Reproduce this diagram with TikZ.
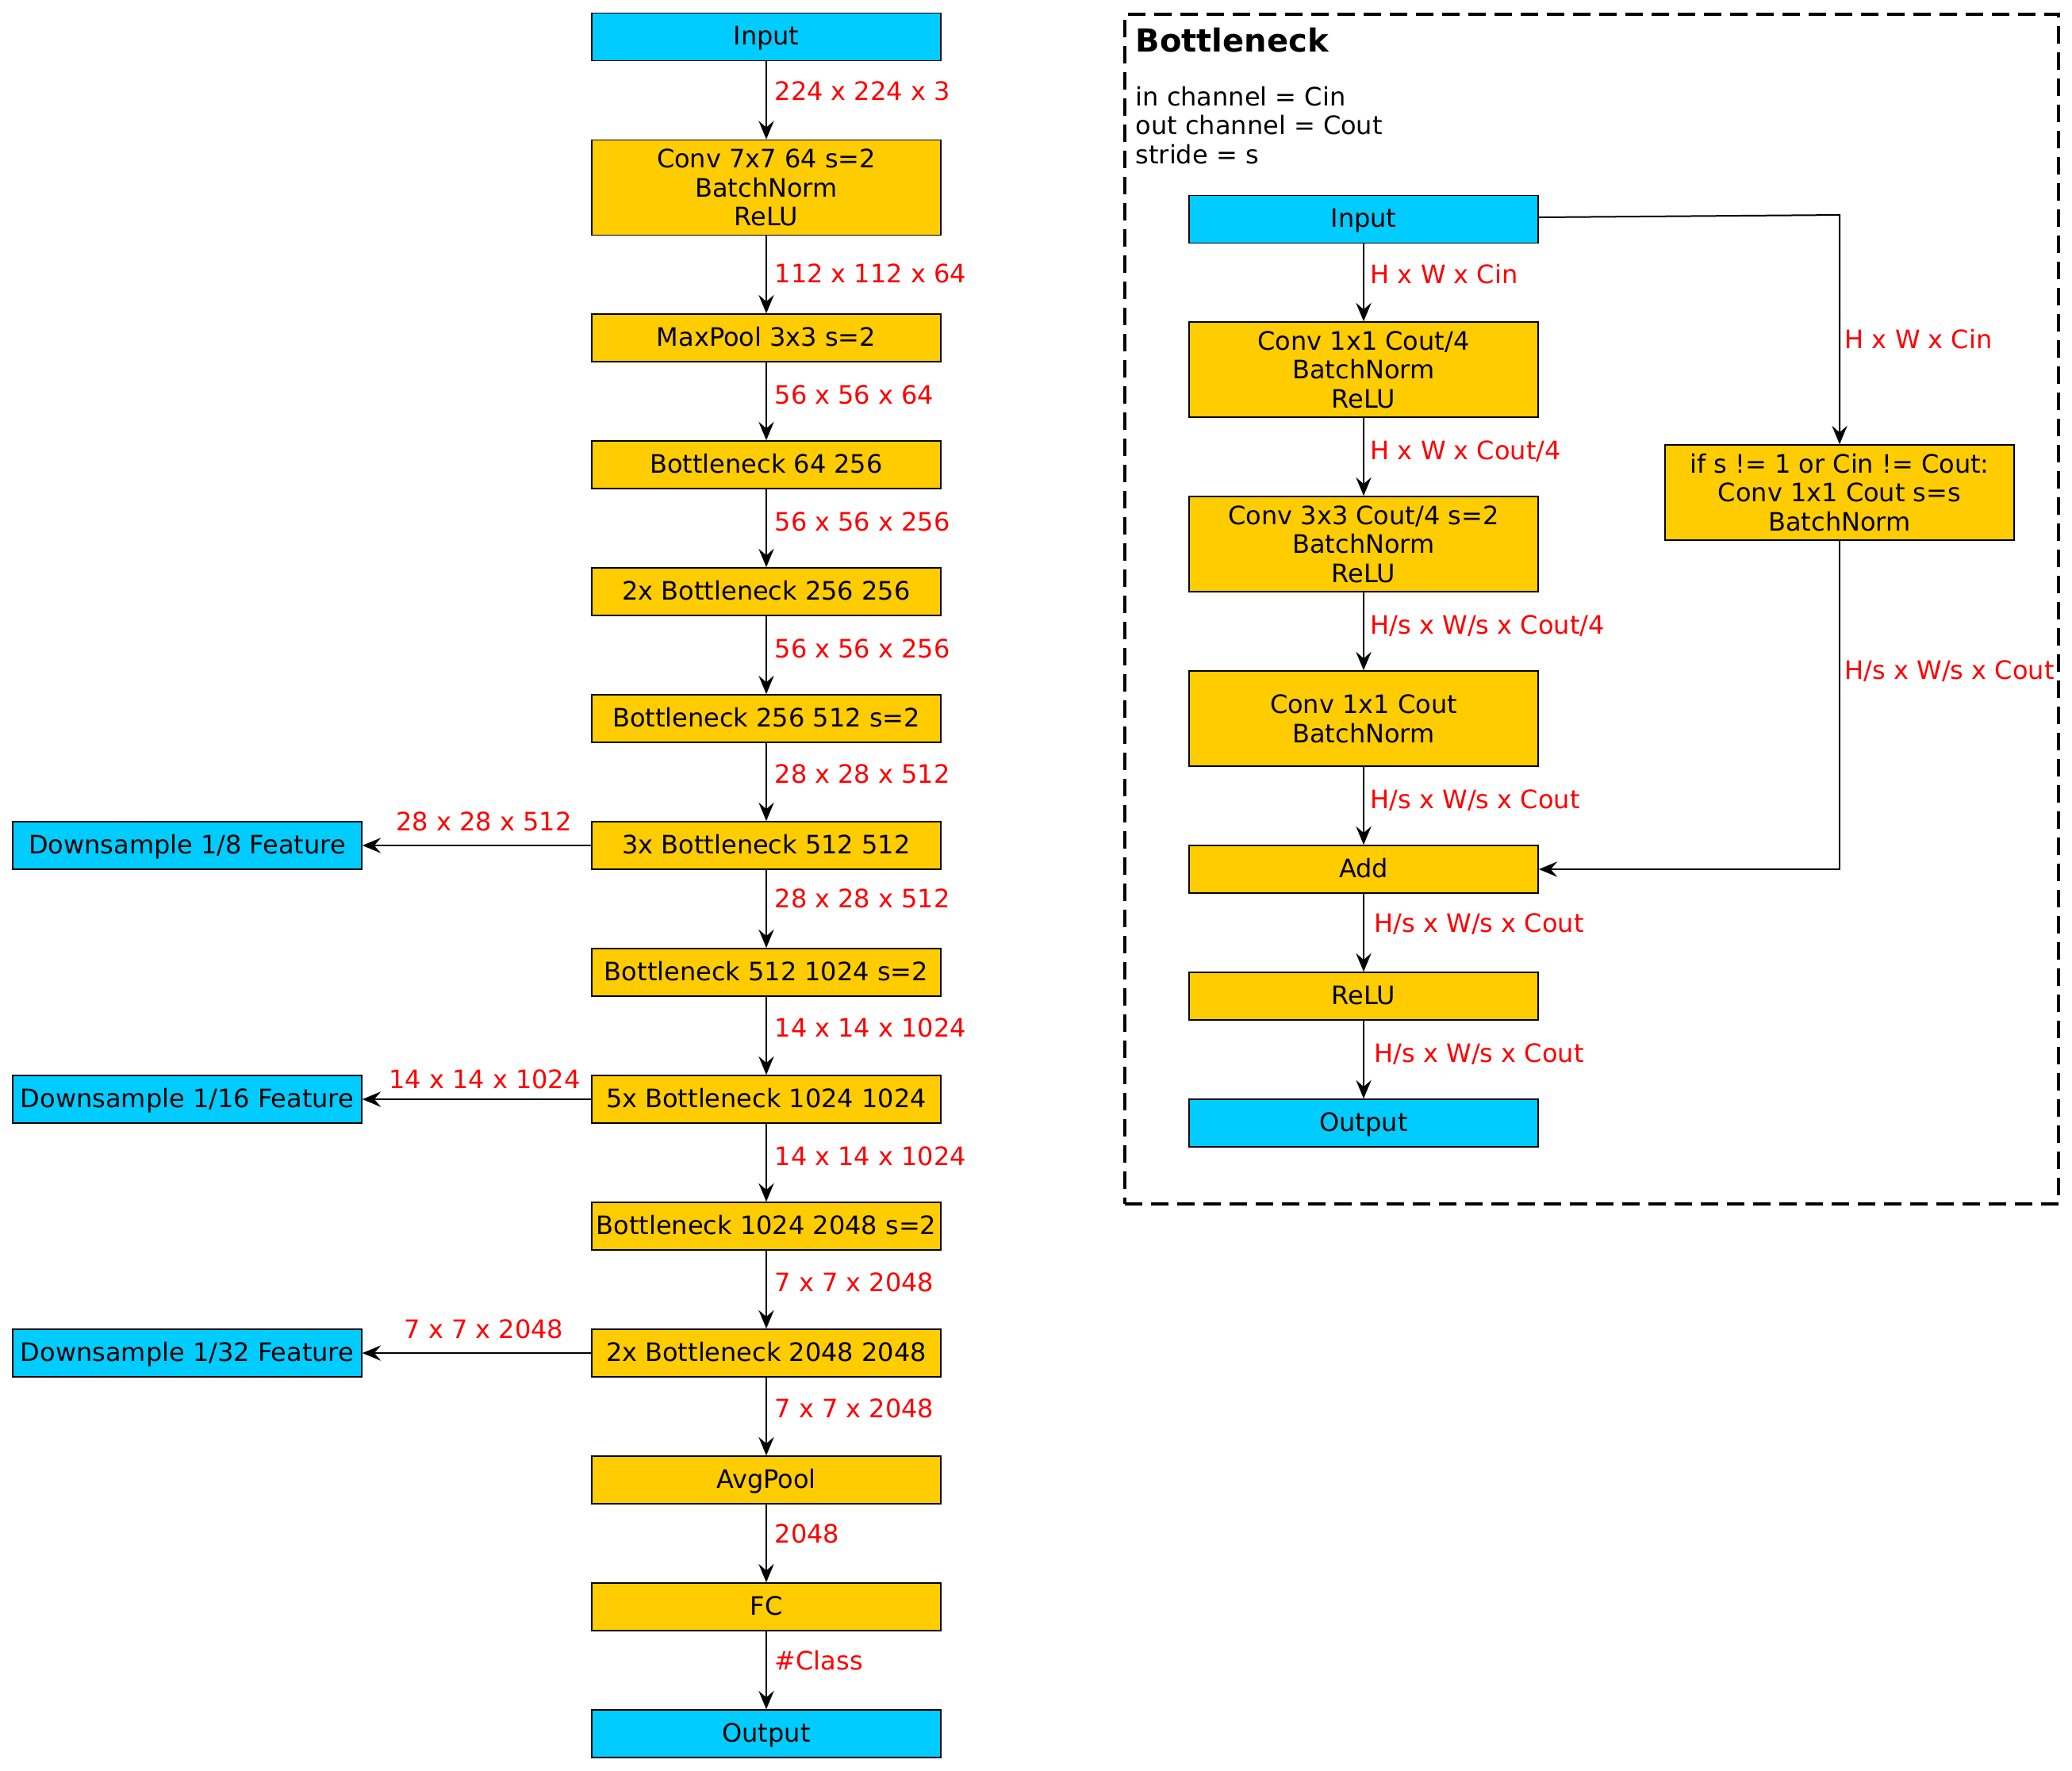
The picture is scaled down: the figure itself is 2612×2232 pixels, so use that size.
\documentclass[tikz,border=0pt]{standalone}
\usepackage{fontspec}
\setmainfont{DejaVu Sans}
\usetikzlibrary{arrows.meta}
\definecolor{mycyan}{HTML}{00CCFF}
\definecolor{myyellow}{HTML}{FFCC00}
\newcommand{\fs}{\fontsize{9.6}{11}\selectfont}
\tikzset{
  blk/.style={draw=black, line width=0.5pt, minimum width=132pt, minimum height=18pt, inner sep=0pt, align=center, font=\fs},
  one/.style={text height=8pt, text depth=1.9pt},
  ybox/.style={blk, one, fill=myyellow},
  cbox/.style={blk, one, fill=mycyan},
  tallbox/.style={blk, fill=myyellow, minimum height=36pt},
  lab/.style={text=red, font=\fs, anchor=west, inner sep=0pt, one},
  clab/.style={text=red, font=\fs, anchor=center, inner sep=0pt, one},
  arr/.style={-{Stealth[length=7pt,width=5.8pt,inset=2.5pt]}, line width=0.6pt},
  plain/.style={font=\fs, anchor=west, inner sep=0pt, one},
}
\begin{document}
\begin{tikzpicture}[x=0.3pt, y=-0.3pt]
\useasboundingbox (0,0) rectangle (2612,2232);
\fill[white] (0,0) rectangle (2612,2232);

% ---------------- left column ----------------
\node[cbox] (in) at (966,46.5) {Input};
\node[tallbox] (c7) at (966,236.5) {Conv 7x7 64 s=2\\BatchNorm\\ReLU};
\node[ybox] (mp) at (966,426) {MaxPool 3x3 s=2};
\node[ybox] (b1) at (966,586) {Bottleneck 64 256};
\node[ybox] (b2) at (966,746) {2x Bottleneck 256 256};
\node[ybox] (b3) at (966,906) {Bottleneck 256 512 s=2};
\node[ybox] (b4) at (966,1066) {3x Bottleneck 512 512};
\node[ybox] (b5) at (966,1226) {Bottleneck 512 1024 s=2};
\node[ybox] (b6) at (966,1386) {5x Bottleneck 1024 1024};
\node[ybox] (b7) at (966,1546) {Bottleneck 1024 2048 s=2};
\node[ybox] (b8) at (966,1706) {2x Bottleneck 2048 2048};
\node[ybox] (ap) at (966,1866) {AvgPool};
\node[ybox] (fc) at (966,2026) {FC};
\node[cbox] (out) at (966,2186) {Output};

\node[cbox] (d8) at (236,1066) {Downsample 1/8 Feature};
\node[cbox] (d16) at (236,1386) {Downsample 1/16 Feature};
\node[cbox] (d32) at (236,1706) {Downsample 1/32 Feature};

\draw[arr] (in) -- (c7);
\draw[arr] (c7) -- (mp);
\draw[arr] (mp) -- (b1);
\draw[arr] (b1) -- (b2);
\draw[arr] (b2) -- (b3);
\draw[arr] (b3) -- (b4);
\draw[arr] (b4) -- (b5);
\draw[arr] (b5) -- (b6);
\draw[arr] (b6) -- (b7);
\draw[arr] (b7) -- (b8);
\draw[arr] (b8) -- (ap);
\draw[arr] (ap) -- (fc);
\draw[arr] (fc) -- (out);
\draw[arr] (b4) -- (d8);
\draw[arr] (b6) -- (d16);
\draw[arr] (b8) -- (d32);

\node[lab] (l1) at (976,116) {224 x 224 x 3};
\node[lab] (l2) at (976,346) {112 x 112 x 64};
\node[lab] (l3) at (976,499) {56 x 56 x 64};
\node[lab] (l4) at (976,659) {56 x 56 x 256};
\node[lab] (l5) at (976,819) {56 x 56 x 256};
\node[lab] (l6) at (976,977) {28 x 28 x 512};
\node[lab] (l7) at (976,1134) {28 x 28 x 512};
\node[lab] (l8) at (976,1297) {14 x 14 x 1024};
\node[lab] (l9) at (976,1459) {14 x 14 x 1024};
\node[lab] (l10) at (976,1618) {7 x 7 x 2048};
\node[lab] (l11) at (976,1777) {7 x 7 x 2048};
\node[lab] (l12) at (976,1935) {2048};
\node[lab] (l13) at (976,2095) {\#Class};
\node[clab] (ld8) at (610,1037) {28 x 28 x 512};
\node[clab] (ld16) at (611,1362) {14 x 14 x 1024};
\node[clab] (ld32) at (610,1677) {7 x 7 x 2048};

% ---------------- bottleneck panel ----------------
\node[draw, line width=1.2pt, dash pattern=on 6.6pt off 3.3pt, minimum width=353.1pt, minimum height=450pt, inner sep=0pt] (panel) at (2006.5,768) {};
\node[plain, font=\fontsize{12}{14}\selectfont\bfseries, text height=9.5pt, text depth=2.5pt] (title) at (1431,54) {Bottleneck};
\node[plain] (t1) at (1431,123) {in channel = Cin};
\node[plain] (t2) at (1431,159) {out channel = Cout};
\node[plain] (t3) at (1431,196) {stride = s};

\node[cbox] (bin) at (1719,276.5) {Input};
\node[tallbox] (bc1) at (1719,466) {Conv 1x1 Cout/4\\BatchNorm\\ReLU};
\node[tallbox] (bc3) at (1719,686) {Conv 3x3 Cout/4 s=2\\BatchNorm\\ReLU};
\node[tallbox] (bc2) at (1719,906) {Conv 1x1 Cout\\BatchNorm};
\node[ybox] (badd) at (1719,1096) {Add};
\node[ybox] (brelu) at (1719,1256) {ReLU};
\node[cbox] (bout) at (1719,1416) {Output};
\node[tallbox] (bsc) at (2319,621) {if s != 1 or Cin != Cout:\\Conv 1x1 Cout s=s\\BatchNorm};
\coordinate (k0) at (1939,274);
\coordinate (k1) at (2319,271);
\coordinate (k2) at (2319,1096);

\draw[arr] (bin) -- (bc1);
\draw[arr] (bc1) -- (bc3);
\draw[arr] (bc3) -- (bc2);
\draw[arr] (bc2) -- (badd);
\draw[arr] (badd) -- (brelu);
\draw[arr] (brelu) -- (bout);
\draw[arr] (k0) -- (k1) -- (bsc.north);
\draw[arr] (bsc.south) -- (k2) -- (badd.east);

\node[lab] (r1) at (1727,347) {H x W x Cin};
\node[lab] (r2) at (1727,569) {H x W x Cout/4};
\node[lab] (r3) at (1727,789) {H/s x W/s x Cout/4};
\node[lab] (r4) at (1727,1009) {H/s x W/s x Cout};
\node[lab] (r5) at (1732,1165) {H/s x W/s x Cout};
\node[lab] (r6) at (1732,1329) {H/s x W/s x Cout};
\node[lab] (r7) at (2325,429) {H x W x Cin};
\node[lab] (r8) at (2325,846) {H/s x W/s x Cout};
\end{tikzpicture}
\end{document}
